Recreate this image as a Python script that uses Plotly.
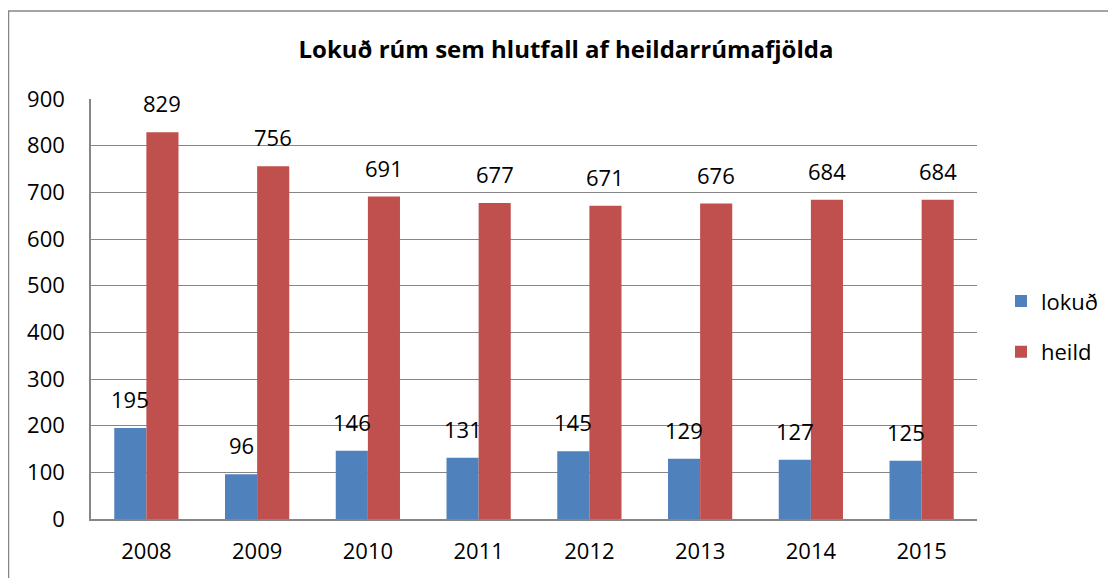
import plotly.graph_objects as go

years = ["2008", "2009", "2010", "2011", "2012", "2013", "2014", "2015"]
lokud = [195, 96, 146, 131, 145, 129, 127, 125]
heild = [829, 756, 691, 677, 671, 676, 684, 684]
title = "Lokuð rúm sem hlutfall af heildarrúmafjölda"

OFF = 8  # default body margin of the html page
W, H = 1116 - OFF, 578 - OFF
ml = 91 - OFF
mt = 98.5 - OFF
mr = 1116 - 977
mb = 578 - 519
FONT = "'Open Sans', sans-serif"
FS = 22

fig = go.Figure()
fig.add_trace(go.Bar(name="lokuð", x=years, y=lokud, marker=dict(color="#4F81BD", line=dict(width=0)),
                     legendgroup="a"))
fig.add_trace(go.Bar(name="heild", x=years, y=heild, marker=dict(color="#C0504D", line=dict(width=0)),
                     legendgroup="b"))

for i in range(len(years)):
    fig.add_annotation(x=i, y=lokud[i], text=str(lokud[i]), xref="x", yref="y", showarrow=False,
                       yanchor="bottom", xshift=-16, yshift=12, font=dict(size=FS, color="#000", family=FONT))
    fig.add_annotation(x=i, y=heild[i], text=str(heild[i]), xref="x", yref="y", showarrow=False,
                       yanchor="bottom", xshift=16, yshift=12, font=dict(size=FS, color="#000", family=FONT))

# outer chart frame
pw = W - ml - mr
ph = H - mt - mb
fig.add_shape(type="rect", xref="paper", yref="paper", x0=(0.5 - ml) / pw, x1=(W + 20 - ml) / pw,
              y0=-(mb + 20) / ph, y1=1 + (mt - 2.5) / ph, line=dict(color="#868686", width=1.5), layer="below")

fig.update_layout(
    width=W, height=H,
    margin=dict(l=ml, r=mr, t=mt, b=mb),
    paper_bgcolor="white", plot_bgcolor="white",
    barmode="group", bargap=0.42, bargroupgap=0,
    title=dict(text="<b>" + title + "</b>", x=(566 - OFF) / W, xanchor="center", y=1 - (50 - OFF) / H,
               yanchor="middle", font=dict(size=24, color="#000", family=FONT)),
    font=dict(family=FONT, color="#000"),
    legend=dict(x=(1001 - OFF - ml) / pw, xanchor="left", y=1 - (280 - OFF - mt) / ph, yanchor="top",
                font=dict(size=FS, color="#000", family=FONT), tracegroupgap=19,
                bgcolor="rgba(0,0,0,0)"),
    xaxis=dict(type="category", showgrid=False, showline=True, linecolor="#868686", linewidth=1.5,
               tickfont=dict(size=FS), ticks="outside", ticklen=12, tickcolor="rgba(0,0,0,0)"),
    yaxis=dict(range=[0, 900], dtick=100, showgrid=True, gridcolor="#868686", gridwidth=1.2,
               showline=True, linecolor="#868686", linewidth=1.5, zeroline=False,
               tickfont=dict(size=FS), ticks="outside", ticklen=20, tickcolor="rgba(0,0,0,0)"),
    showlegend=True,
)

fig.write_html("out.html")
